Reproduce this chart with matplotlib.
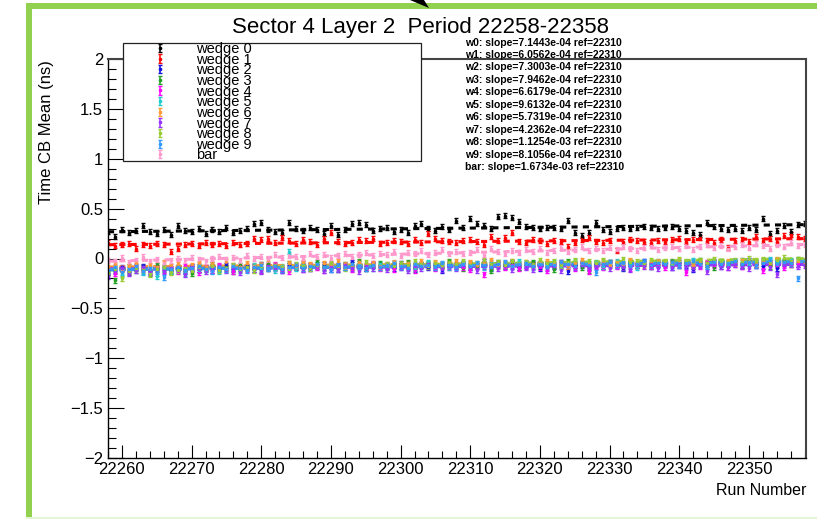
#! /usr/bin/env python3

import matplotlib.pyplot as plt
import numpy as np
from matplotlib.legend_handler import HandlerErrorbar
from matplotlib.patches import Polygon, Rectangle
from matplotlib.ticker import FuncFormatter, MultipleLocator

W, H = 817, 519

runs = np.arange(22258, 22359)
ref_run = 22310

names = ["wedge 0", "wedge 1", "wedge 2", "wedge 3", "wedge 4", "wedge 5",
         "wedge 6", "wedge 7", "wedge 8", "wedge 9", "bar"]
tags = ["w0", "w1", "w2", "w3", "w4", "w5", "w6", "w7", "w8", "w9", "bar"]
colours = ["#000000", "#ff0000", "#1010e0", "#20a020", "#ff00ff", "#20cccc",
           "#ff9933", "#9933ff", "#99cc33", "#3399ff", "#ff99cc"]

# fitted slope (ns / run) and fitted value at the reference run
slopes = [7.1443e-04, 6.0562e-04, 7.3003e-04, 7.9462e-04, 6.6179e-04, 9.6132e-04,
          5.7319e-04, 4.2362e-04, 1.1254e-03, 8.1056e-04, 1.6734e-03]
at_ref = [0.305, 0.170, -0.070, -0.060, -0.075, -0.065,
          -0.055, -0.080, -0.055, -0.070, 0.060]
mean_err = 0.025

# CB mean per run, 22258 .. 22358
w0 = [0.27, 0.22, 0.29, 0.26, 0.28, 0.33, 0.27, 0.25, 0.29, 0.24,
      0.33, 0.28, 0.27, 0.30, 0.25, 0.29, 0.27, 0.31, 0.26, 0.28,
      0.30, 0.35, 0.36, 0.29, 0.27, 0.26, 0.36, 0.30, 0.28, 0.31,
      0.29, 0.25, 0.33, 0.24, 0.29, 0.35, 0.36, 0.34, 0.28, 0.30,
      0.31, 0.27, 0.29, 0.26, 0.33, 0.35, 0.30, 0.28, 0.32, 0.29,
      0.38, 0.31, 0.40, 0.35, 0.33, 0.30, 0.42, 0.43, 0.41, 0.37,
      0.32, 0.31, 0.30, 0.31, 0.31, 0.30, 0.38, 0.26, 0.23, 0.26,
      0.36, 0.29, 0.27, 0.30, 0.31, 0.30, 0.31, 0.32, 0.31, 0.30,
      0.31, 0.32, 0.30, 0.28, 0.26, 0.24, 0.36, 0.32, 0.30, 0.29,
      0.30, 0.28, 0.31, 0.29, 0.40, 0.25, 0.28, 0.33, 0.27, 0.34, 0.35]
w1 = [0.16, 0.13, 0.14, 0.15, 0.10, 0.14, 0.13, 0.15, 0.14, 0.07,
      0.10, 0.14, 0.15, 0.13, 0.16, 0.14, 0.15, 0.13, 0.16, 0.14,
      0.15, 0.20, 0.19, 0.20, 0.16, 0.21, 0.18, 0.15, 0.19, 0.17,
      0.14, 0.20, 0.26, 0.17, 0.15, 0.16, 0.19, 0.18, 0.20, 0.15,
      0.16, 0.18, 0.17, 0.15, 0.19, 0.16, 0.25, 0.20, 0.18, 0.17,
      0.16, 0.18, 0.19, 0.17, 0.14, 0.22, 0.18, 0.21, 0.26, 0.17,
      0.16, 0.19, 0.18, 0.15, 0.18, 0.17, 0.12, 0.16, 0.19, 0.21,
      0.17, 0.16, 0.18, 0.08, 0.17, 0.19, 0.18, 0.17, 0.16, 0.18,
      0.17, 0.19, 0.20, 0.17, 0.19, 0.21, 0.18, 0.16, 0.19, 0.11,
      0.18, 0.19, 0.17, 0.22, 0.18, 0.20, 0.17, 0.23, 0.24, 0.22, 0.20]
w2 = [-0.17, -0.12, -0.09, -0.14, -0.10, -0.08, -0.13, -0.11, -0.09, -0.12,
      -0.10, -0.13, -0.08, -0.11, -0.09, -0.12, -0.10, -0.07, -0.11, -0.09,
      -0.08, -0.11, -0.06, -0.10, -0.08, -0.12, -0.07, -0.09, -0.05, -0.10,
      -0.08, -0.06, -0.11, -0.07, -0.09, -0.04, -0.08, -0.10, -0.06, -0.09,
      -0.07, -0.10, -0.05, -0.08, -0.11, -0.06, -0.09, -0.07, -0.12, -0.06,
      -0.08, -0.05, -0.09, -0.07, -0.03, -0.10, -0.06, -0.08, -0.04, -0.09,
      -0.07, -0.05, -0.10, -0.06, -0.08, -0.04, -0.13, -0.07, -0.05, -0.09,
      -0.06, -0.08, -0.04, -0.07, -0.10, -0.05, -0.07, -0.03, -0.08, -0.06,
      -0.05, -0.09, -0.04, -0.07, -0.11, -0.05, -0.06, -0.03, -0.08, -0.05,
      -0.04, -0.07, -0.02, -0.06, -0.08, -0.04, -0.10, -0.05, -0.03, -0.06, -0.04]
w3 = [-0.14, -0.22, -0.10, -0.08, -0.12, -0.09, -0.15, -0.07, -0.11, -0.13,
      -0.09, -0.12, -0.15, -0.08, -0.10, -0.06, -0.11, -0.09, -0.13, -0.07,
      -0.10, -0.08, -0.12, -0.06, -0.09, -0.11, -0.05, -0.08, -0.10, -0.07,
      -0.04, -0.09, -0.07, -0.11, -0.06, -0.08, -0.03, -0.10, -0.07, -0.05,
      -0.09, -0.06, -0.08, -0.04, -0.10, -0.07, -0.05, -0.09, -0.06, -0.03,
      -0.07, -0.10, -0.05, -0.08, -0.06, -0.12, -0.04, -0.07, -0.05, -0.09,
      -0.06, -0.04, -0.08, -0.05, -0.11, -0.06, -0.03, -0.07, -0.09, -0.12,
      -0.05, -0.08, -0.04, -0.06, -0.09, -0.03, -0.07, -0.05, -0.08, -0.04,
      -0.06, -0.03, -0.07, -0.05, -0.08, -0.02, -0.06, -0.09, -0.04, -0.05,
      -0.03, -0.07, -0.04, -0.06, -0.02, -0.08, -0.05, -0.03, -0.06, -0.01, -0.04]
w4 = [-0.12, -0.15, -0.10, -0.13, -0.08, -0.11, -0.14, -0.09, -0.12, -0.10,
      -0.13, -0.08, -0.11, -0.14, -0.09, -0.12, -0.07, -0.10, -0.13, -0.09,
      -0.11, -0.08, -0.12, -0.09, -0.06, -0.10, -0.13, -0.08, -0.11, -0.07,
      -0.09, -0.12, -0.06, -0.10, -0.08, -0.11, -0.07, -0.09, -0.05, -0.10,
      -0.08, -0.11, -0.07, -0.09, -0.12, -0.06, -0.08, -0.10, -0.07, -0.09,
      -0.06, -0.09, -0.11, -0.07, -0.16, -0.08, -0.05, -0.09, -0.07, -0.10,
      -0.08, -0.06, -0.09, -0.12, -0.07, -0.05, -0.08, -0.10, -0.06, -0.13,
      -0.07, -0.09, -0.05, -0.08, -0.06, -0.10, -0.07, -0.04, -0.08, -0.06,
      -0.09, -0.05, -0.07, -0.14, -0.06, -0.08, -0.04, -0.07, -0.05, -0.09,
      -0.06, -0.08, -0.04, -0.07, -0.12, -0.05, -0.07, -0.09, -0.04, -0.06, -0.05]
w5 = [-0.13, -0.10, -0.16, -0.12, -0.09, -0.14, -0.11, -0.18, -0.10, -0.13,
      -0.11, -0.15, -0.09, -0.12, -0.10, -0.08, -0.13, -0.11, -0.09, -0.12,
      -0.10, -0.07, -0.11, -0.09, -0.12, -0.08, 0.07, -0.10, -0.07, -0.09,
      -0.06, -0.10, -0.08, -0.11, -0.07, -0.09, -0.05, -0.08, -0.10, -0.06,
      -0.08, -0.05, -0.09, -0.07, -0.10, -0.06, -0.04, -0.08, -0.06, -0.09,
      -0.07, -0.05, -0.08, -0.06, -0.09, -0.04, -0.07, -0.05, -0.08, -0.03,
      -0.06, -0.09, -0.05, -0.07, -0.04, -0.08, -0.06, -0.03, -0.07, -0.05,
      -0.04, -0.08, -0.06, -0.03, -0.07, -0.05, -0.09, -0.04, -0.06, -0.03,
      -0.05, -0.07, -0.04, -0.06, -0.02, -0.05, -0.08, -0.04, -0.03, -0.06,
      -0.04, -0.02, -0.05, -0.07, -0.03, -0.01, -0.05, -0.04, -0.02, -0.02, -0.03]
w6 = [-0.09, -0.06, -0.11, -0.08, -0.05, -0.10, -0.07, -0.09, -0.04, -0.08,
      -0.06, -0.10, -0.07, -0.05, -0.09, -0.06, -0.08, -0.03, -0.07, -0.09,
      -0.05, -0.08, -0.06, -0.02, -0.07, -0.09, -0.05, -0.08, -0.04, -0.06,
      -0.08, -0.05, -0.07, -0.03, -0.06, -0.09, -0.04, -0.07, -0.05, -0.08,
      -0.06, -0.04, -0.07, -0.05, -0.08, -0.03, -0.06, -0.04, -0.07, -0.05,
      -0.03, -0.06, -0.04, -0.07, -0.05, -0.02, -0.08, -0.05, -0.03, -0.06,
      -0.04, -0.07, -0.05, -0.03, -0.06, -0.04, -0.08, -0.05, -0.02, -0.06,
      -0.05, -0.03, -0.07, -0.04, -0.06, -0.02, -0.05, -0.07, -0.04, -0.03,
      -0.06, -0.04, -0.02, -0.05, -0.07, -0.03, -0.05, -0.04, -0.06, -0.03,
      -0.05, -0.02, -0.04, -0.06, -0.03, -0.05, -0.01, -0.04, -0.06, -0.03, -0.04]
w7 = [-0.18, -0.13, -0.10, -0.15, -0.12, -0.09, -0.14, -0.11, -0.13, -0.10,
      -0.12, -0.16, -0.09, -0.11, -0.13, -0.10, -0.08, -0.12, -0.10, -0.14,
      -0.09, -0.11, -0.13, -0.08, -0.10, -0.12, -0.09, -0.07, -0.11, -0.10,
      -0.08, -0.12, -0.09, -0.11, -0.07, -0.10, -0.13, -0.08, -0.10, -0.09,
      -0.11, -0.07, -0.09, -0.12, -0.08, -0.10, -0.06, -0.09, -0.11, -0.08,
      -0.10, -0.07, -0.09, -0.12, -0.08, -0.06, -0.10, -0.08, -0.11, -0.07,
      -0.09, -0.11, -0.07, -0.10, -0.08, -0.12, -0.06, -0.09, -0.07, -0.10,
      -0.08, -0.06, -0.10, -0.07, -0.09, -0.11, -0.07, -0.08, -0.06, -0.10,
      -0.07, -0.09, -0.06, -0.08, -0.10, -0.07, -0.13, -0.06, -0.08, -0.09,
      -0.06, -0.08, -0.10, -0.07, -0.05, -0.09, -0.16, -0.07, -0.06, -0.08, -0.07]
w8 = [-0.15, -0.11, -0.20, -0.13, -0.10, -0.12, -0.16, -0.11, -0.09, -0.14,
      -0.12, -0.10, -0.13, -0.09, -0.11, -0.08, -0.12, -0.10, -0.07, -0.11,
      -0.09, -0.12, -0.08, -0.10, -0.07, -0.09, -0.11, -0.06, -0.08, -0.10,
      -0.07, -0.09, -0.05, -0.08, -0.10, -0.06, -0.08, -0.04, -0.07, -0.09,
      -0.06, -0.08, -0.05, -0.07, -0.03, -0.06, -0.08, -0.05, -0.07, -0.04,
      -0.06, -0.03, -0.07, -0.05, -0.02, -0.06, -0.04, -0.07, -0.03, -0.05,
      -0.04, -0.06, -0.02, -0.05, -0.03, -0.07, -0.04, -0.02, -0.05, -0.03,
      -0.05, -0.02, -0.04, -0.06, -0.01, -0.04, -0.03, -0.05, -0.02, -0.04,
      -0.03, -0.05, -0.01, -0.03, -0.04, -0.02, -0.05, -0.01, -0.03, -0.04,
      -0.02, -0.04, 0.00, -0.03, -0.01, -0.04, -0.02, 0.01, -0.03, -0.01, -0.02]
w9 = [-0.12, -0.09, -0.14, -0.11, -0.08, -0.13, -0.10, -0.15, -0.19, -0.11,
      -0.09, -0.12, -0.10, -0.08, -0.11, -0.13, -0.09, -0.11, -0.08, -0.10,
      -0.12, -0.09, -0.07, -0.10, -0.08, -0.11, -0.09, -0.07, -0.10, -0.08,
      -0.06, -0.09, -0.11, -0.07, -0.09, -0.06, -0.08, -0.10, -0.07, -0.09,
      -0.07, -0.05, -0.08, -0.10, -0.06, -0.08, -0.07, -0.09, -0.05, -0.07,
      -0.09, -0.06, -0.08, -0.05, -0.07, -0.09, -0.06, -0.04, -0.08, -0.06,
      -0.05, -0.08, -0.06, -0.09, -0.07, -0.04, -0.06, -0.08, -0.05, -0.07,
      -0.14, -0.06, -0.04, -0.07, -0.05, -0.08, -0.06, -0.03, -0.07, -0.05,
      -0.06, -0.04, -0.07, -0.05, -0.03, -0.06, -0.08, -0.04, -0.06, -0.05,
      -0.03, -0.06, -0.04, -0.07, -0.05, -0.02, -0.06, -0.04, -0.05, -0.20, -0.03]
bar = [-0.02, -0.03, 0.01, -0.04, -0.02, 0.02, -0.03, -0.01, -0.05, -0.02,
       0.00, -0.02, 0.01, -0.01, -0.03, 0.00, 0.02, -0.01, 0.01, -0.02,
       0.03, 0.00, 0.02, -0.01, 0.04, 0.01, 0.03, 0.02, 0.00, 0.05,
       0.02, 0.04, 0.01, 0.03, 0.05, 0.02, 0.04, 0.06, 0.03, 0.05,
       0.04, 0.07, 0.03, 0.06, 0.05, 0.08, 0.04, 0.06, 0.09, 0.05,
       0.07, 0.05, 0.06, 0.09, 0.04, 0.10, 0.07, 0.05, 0.08, 0.06,
       0.09, 0.07, 0.10, 0.06, 0.08, 0.11, 0.07, 0.09, 0.12, 0.08,
       0.10, 0.08, 0.11, 0.09, 0.12, 0.10, 0.08, 0.11, 0.13, 0.09,
       0.11, 0.12, 0.10, 0.13, 0.09, 0.12, 0.14, 0.11, 0.13, 0.10,
       0.12, 0.14, 0.11, 0.15, 0.13, 0.10, 0.14, 0.12, 0.16, 0.13, 0.14]

series = [w0, w1, w2, w3, w4, w5, w6, w7, w8, w9, bar]


def fx(px):
    return px / W


def fy(py):
    return 1 - py / H


def ticklabel(v, pos):
    return ("%g" % v).replace("-", "\u2212")


plt.rcParams["font.family"] = ["Liberation Sans", "DejaVu Sans"]

fig = plt.figure(figsize=(W / 100, H / 100), dpi=100)
ax = fig.add_axes([fx(108), fy(458), (806 - 108) / W, (458 - 59) / H])

handles = []
for vals, col, slope, yref in zip(series, colours, slopes, at_ref):
    h = ax.errorbar(runs, vals, yerr=mean_err, fmt="o", ms=1.6, color=col,
                    ecolor=col, elinewidth=1.1, capsize=1.1, capthick=1.0)
    handles.append(h)
    xfit = np.array([runs[0], runs[-1]])
    ax.plot(xfit, yref + slope * (xfit - ref_run), color=col, lw=2.2,
            linestyle=(0, (2.0, 1.7)))

ax.set_xlim(22258, 22358.2)
ax.set_ylim(-2, 2)
ax.xaxis.set_major_locator(MultipleLocator(10))
ax.xaxis.set_minor_locator(MultipleLocator(2))
ax.yaxis.set_major_locator(MultipleLocator(0.5))
ax.yaxis.set_minor_locator(MultipleLocator(0.1))
ax.xaxis.set_major_formatter(FuncFormatter(lambda v, p: "%d" % v))
ax.yaxis.set_major_formatter(FuncFormatter(ticklabel))
ax.tick_params(axis="x", which="major", direction="in", length=9.4, width=0.8,
               labelsize=12, pad=3)
ax.tick_params(axis="x", which="minor", direction="in", length=4.7, width=0.8)
ax.tick_params(axis="y", which="major", direction="in", length=11.5, width=0.8,
               labelsize=12, pad=3.5)
ax.tick_params(axis="y", which="minor", direction="in", length=6, width=0.8)
for side in ["left", "bottom"]:
    ax.spines[side].set_linewidth(1.0)
for side in ["top", "right"]:
    ax.spines[side].set_linewidth(1.5)
    ax.spines[side].set_color("#444444")

fig.text(fx(420), fy(33), "Sector 4 Layer 2  Period 22258-22358",
         fontsize=16, ha="center", va="baseline")
fig.text(fx(47), fy(60), "Time CB Mean (ns)", rotation=90, fontsize=12,
         ha="center", va="top")
fig.text(fx(806), fy(495), "Run Number", fontsize=11.5, ha="right",
         va="baseline")

for k, (tag, slope) in enumerate(zip(tags, slopes)):
    fig.text(fx(465), fy(45.5 + 12.45 * k),
             "%s: slope=%.4e ref=%d" % (tag, slope, ref_run),
             fontsize=7.5, fontweight="bold", ha="left", va="baseline")

# legend box sits on top of the frame
fig.add_artist(Rectangle((fx(123), fy(161)), (421 - 123) / W, (161 - 43) / H,
                         transform=fig.transFigure, facecolor="white",
                         edgecolor="#222222", lw=0.9, zorder=4))
fig.legend(handles, names, loc="upper left",
           bbox_to_anchor=(fx(152.7), fy(42)), bbox_transform=fig.transFigure,
           frameon=False, borderpad=0, borderaxespad=0, labelspacing=-0.23,
           handlelength=1.0, handletextpad=2.0, fontsize=10.5,
           handler_map={type(handles[0]): HandlerErrorbar(xerr_size=0.3,
                                                          yerr_size=0.28)})

# green frame around the canvas
green = "#92d050"
fig.add_artist(Rectangle((fx(26), 0), 6 / W, fy(3), transform=fig.transFigure,
                         facecolor=green, edgecolor="none", zorder=6))
fig.add_artist(Rectangle((fx(26), fy(9)), 1 - fx(26), 6 / H,
                         transform=fig.transFigure, facecolor=green,
                         edgecolor="none", zorder=6))
fig.add_artist(Rectangle((fx(26), 0), 1 - fx(26), 2.5 / H,
                         transform=fig.transFigure, facecolor="#e4f4d6",
                         edgecolor="none", zorder=6))
fig.add_artist(Polygon([(fx(410), fy(0)), (fx(424), fy(0)), (fx(429), fy(8))],
                       closed=True, transform=fig.transFigure,
                       facecolor="black", edgecolor="none", zorder=7))

fig.savefig("out.png", dpi=100)
